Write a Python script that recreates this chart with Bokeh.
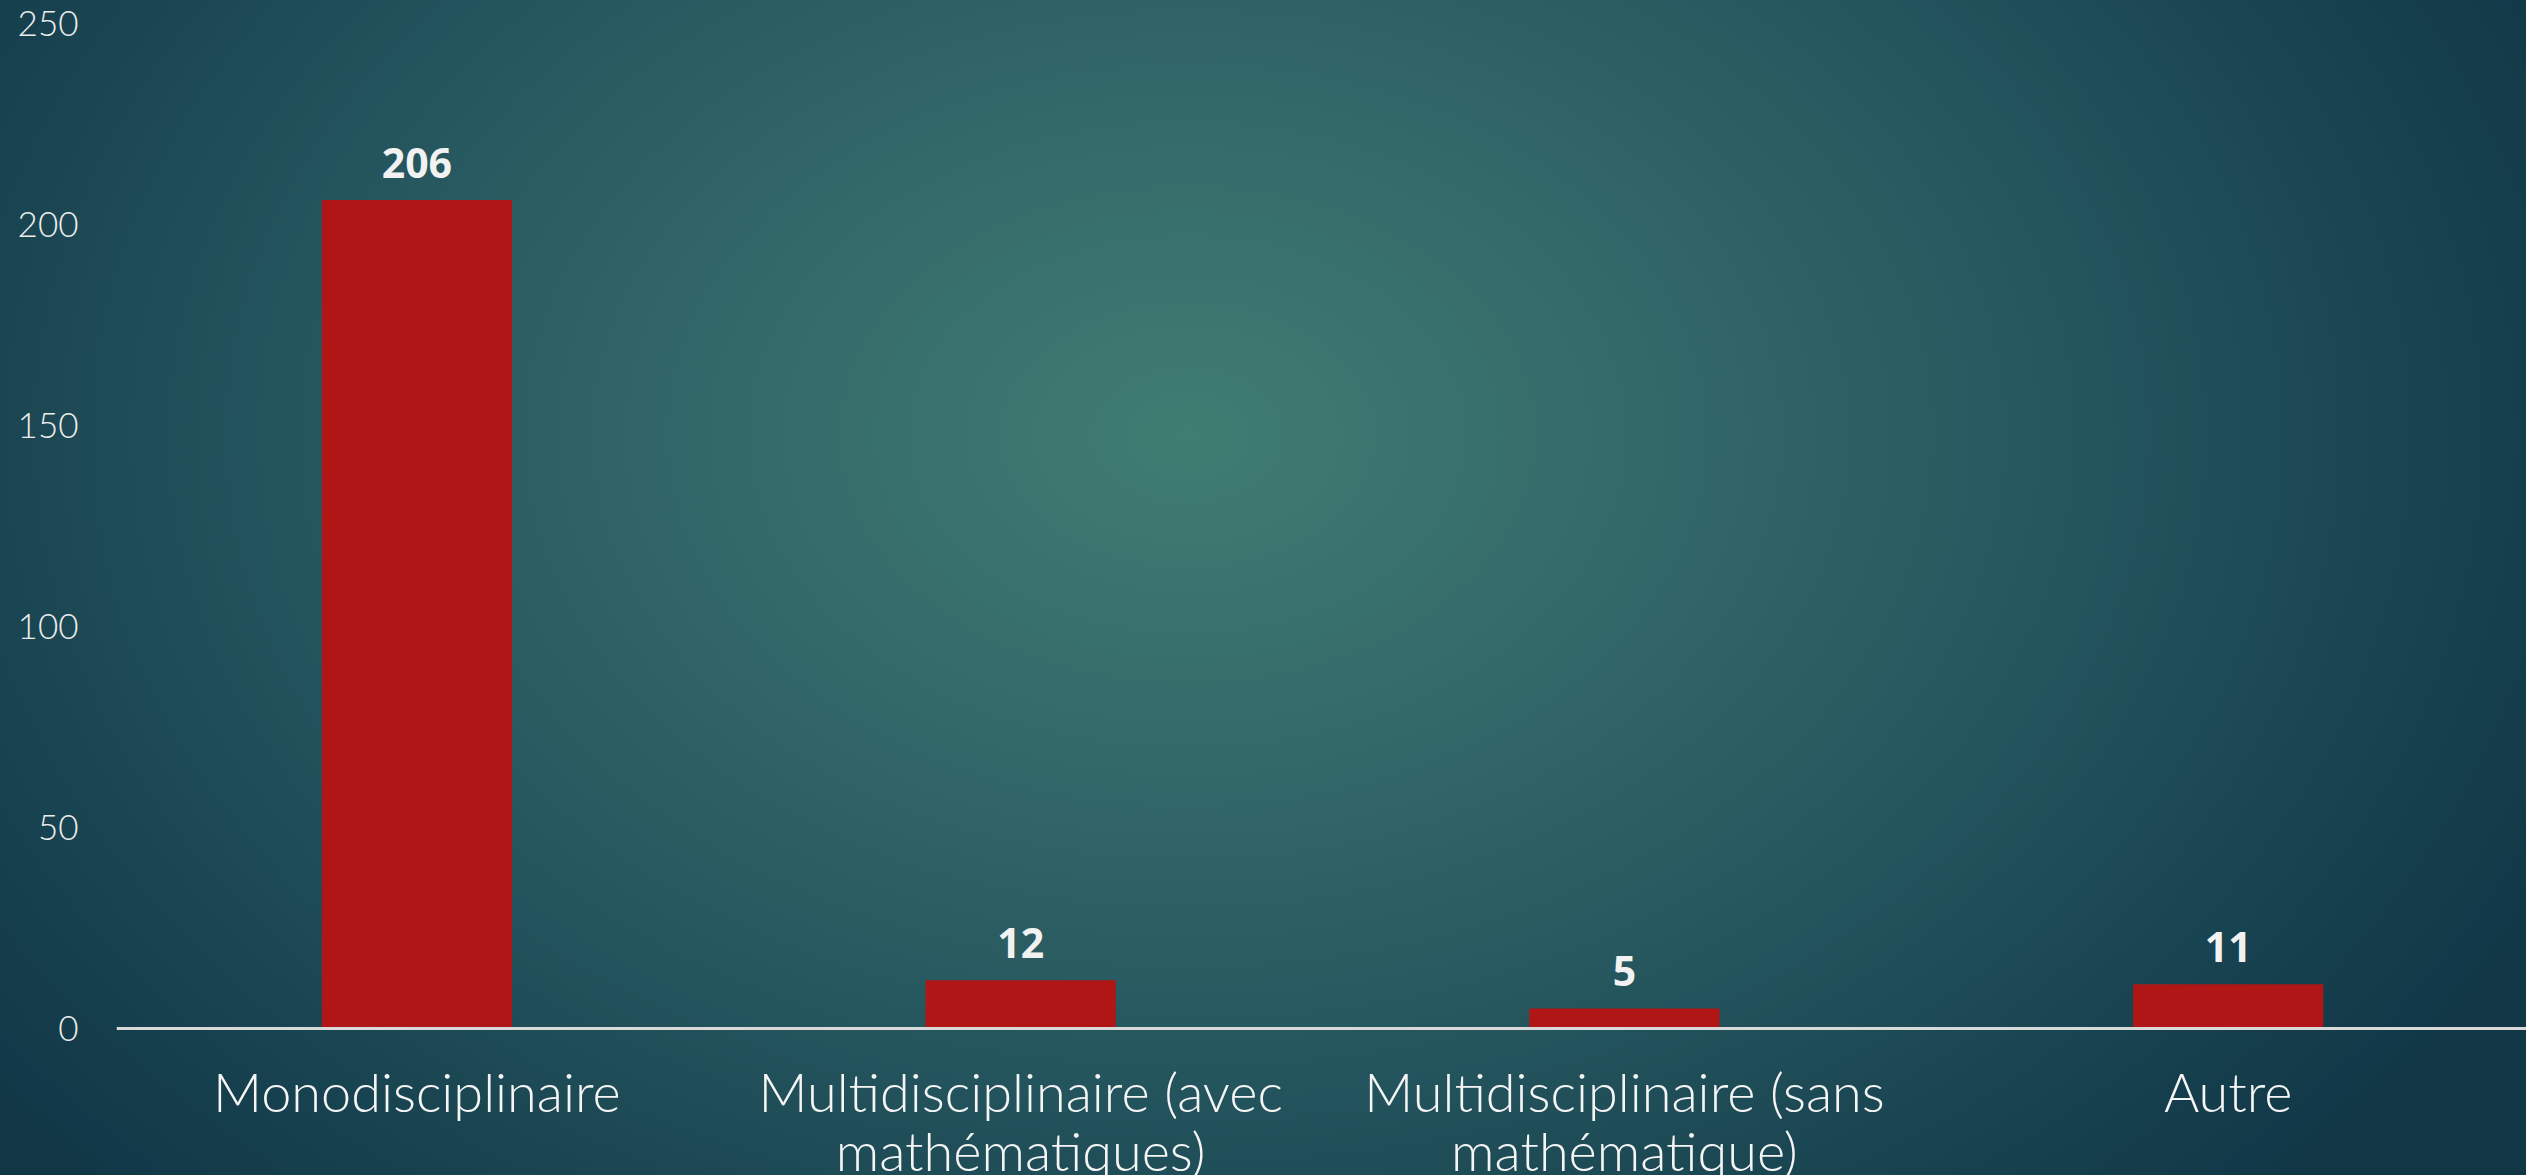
from bokeh.plotting import figure
from bokeh.models import Range1d, FixedTicker, ColumnDataSource, LabelSet
from bokeh.core.properties import value
from bokeh.embed import file_html
from bokeh.resources import INLINE

categories = ["Monodisciplinaire",
              "Multidisciplinaire (avec\nmathématiques)",
              "Multidisciplinaire (sans\nmathématique)",
              "Autre"]
values = [206, 12, 5, 11]
y_ticks = [0, 50, 100, 150, 200, 250]

xs = [i + 0.5 for i in range(len(categories))]
src = ColumnDataSource(dict(x=xs, top=values, label=[str(v) for v in values]))

W, H = 2526, 1175
p = figure(width=W, height=H, output_backend="svg", toolbar_location=None,
           x_range=Range1d(0.0025, 3.994), y_range=Range1d(-36.55, 255.6),
           min_border_left=116, min_border_right=0, min_border_top=0,
           min_border_bottom=0)

p.styles = {"background": "radial-gradient(ellipse 60% 92% at 47% 37%, "
                          "#3F7D72 0%, #34696A 30%, #25565E 58%, #184350 82%, #113747 100%)"}
p.background_fill_alpha = 0
p.border_fill_alpha = 0
p.outline_line_color = None
p.grid.visible = False

p.vbar(x="x", top="top", width=0.315, bottom=0, source=src,
       fill_color="#B01615", line_color=None)

labels = LabelSet(x="x", y="top", text="label", source=src,
                  text_align="center", text_baseline="middle", y_offset=37,
                  text_color="#F2F2F2", text_font=value("Open Sans"),
                  text_font_style="bold", text_font_size=value("41px"))
p.add_layout(labels)

# y axis
ya = p.yaxis[0]
ya.ticker = FixedTicker(ticks=y_ticks)
ya.axis_line_color = None
ya.major_tick_line_color = None
ya.minor_tick_line_color = None
ya.major_label_standoff = 32
ya.major_label_text_font = "Lato Light"
ya.major_label_text_font_size = "35px"
ya.major_label_text_color = "#EDEDED"

# x axis, drawn at y = 0
xa = p.xaxis[0]
xa.fixed_location = 0
xa.ticker = FixedTicker(ticks=xs)
xa.major_label_overrides = {x: c for x, c in zip(xs, categories)}
xa.axis_line_color = "#D9D9D9"
xa.axis_line_width = 3
xa.major_tick_line_color = None
xa.minor_tick_line_color = None
xa.major_label_standoff = 25
xa.major_label_text_font = "Lato Light"
xa.major_label_text_font_size = "54px"
xa.major_label_text_color = "#F5F5F5"
xa.major_label_text_line_height = 0.9

open("out.html", "w").write(file_html(p, INLINE))
